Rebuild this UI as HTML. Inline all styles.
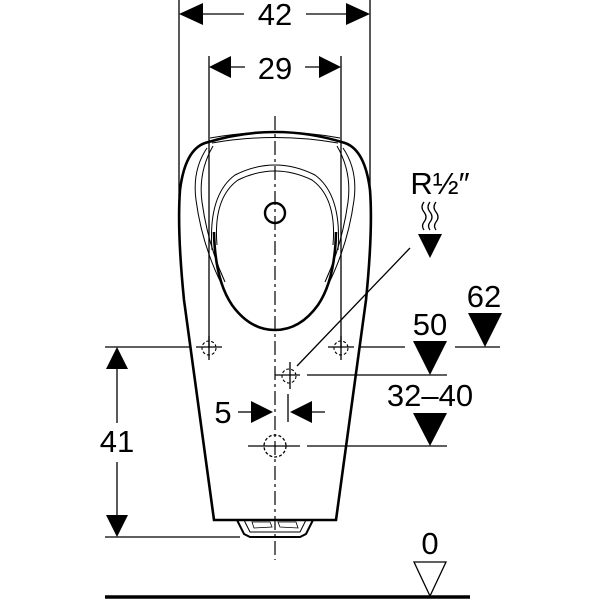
<!DOCTYPE html>
<html><head><meta charset="utf-8"><style>
html,body{margin:0;padding:0;background:#fff}
svg{display:block}
text{font-family:"Liberation Sans",sans-serif;font-size:31px;fill:#000;text-anchor:middle}
</style></head><body>
<svg width="600" height="600" viewBox="0 0 600 600" xmlns="http://www.w3.org/2000/svg">
<g stroke="#000" fill="none">
<line x1="179" y1="0" x2="179" y2="196" stroke-width="1.3"/>
<line x1="370" y1="0" x2="370" y2="196" stroke-width="1.3"/>
<line x1="209" y1="56" x2="209" y2="348" stroke-width="1.3"/>
<line x1="341" y1="56" x2="341" y2="348" stroke-width="1.3"/>
<line x1="200" y1="14" x2="244" y2="14" stroke-width="1.3"/>
<line x1="306" y1="14" x2="350" y2="14" stroke-width="1.3"/>
<line x1="228" y1="67" x2="245" y2="67" stroke-width="1.3"/>
<line x1="305" y1="67" x2="322" y2="67" stroke-width="1.3"/>
<path d="M214,520 L184,300 Q177,230 180,190 Q185,150 205,143 Q240,132 275,132 Q310,132 345,143 Q365,150 370,190 Q373,230 366,300 L336,520 Z" stroke-width="2.6"/>
<path d="M207,148 Q192,170 196,200 Q202,245 222,285" stroke-width="1"/>
<path d="M213,146 Q198,172 202,202 Q208,245 225,282" stroke-width="1"/>
<path d="M343,148 Q358,170 354,200 Q348,245 328,285" stroke-width="1"/>
<path d="M337,146 Q352,172 348,202 Q342,245 325,282" stroke-width="1"/>
<path d="M210,138 Q275,126 340,138" stroke-width="1"/>
<path d="M212,143 Q275,132 338,143" stroke-width="1"/>
<path d="M212,250 Q208,195 235,175 Q275,155 315,175 Q342,195 338,250" stroke-width="1"/>
<path d="M217,245 Q213,198 238,180 Q275,162 312,180 Q337,198 333,245" stroke-width="1"/>
<path d="M214,232 Q215,280 232,305 Q250,330 275,330 Q300,330 318,305 Q335,280 336,232" stroke-width="2.6"/>
<circle cx="275" cy="213" r="10" stroke-width="2.4"/>
<path d="M237,520 L244,534 L250,537 L300,537 L306,534 L313,520" stroke-width="2"/>
<path d="M244,520 L250,532 L300,532 L306,520" stroke-width="1"/>
<path d="M252,522 L270,522 L272,527 L254,528 Z M278,522 L296,522 L298,528 L280,527 Z" stroke-width="0.8"/>
<line x1="275" y1="116" x2="275" y2="560" stroke-width="1.2" stroke-dasharray="14,4,3,4"/>
<line x1="105" y1="347" x2="190" y2="347" stroke-width="1.3"/>
<line x1="196" y1="347" x2="222" y2="347" stroke-width="1.3"/>
<line x1="328" y1="347" x2="354" y2="347" stroke-width="1.3"/>
<line x1="360" y1="347" x2="405" y2="347" stroke-width="1.3"/>
<line x1="455" y1="347" x2="500" y2="347" stroke-width="1.3"/>
<line x1="275" y1="375" x2="300" y2="375" stroke-width="1.3"/>
<line x1="307" y1="375" x2="447" y2="375" stroke-width="1.3"/>
<line x1="248" y1="446" x2="300" y2="446" stroke-width="1.3"/>
<line x1="307" y1="446" x2="447" y2="446" stroke-width="1.3"/>
<line x1="105" y1="537" x2="240" y2="537" stroke-width="1.3"/>
<line x1="209" y1="336" x2="209" y2="360" stroke-width="1.3"/>
<line x1="341" y1="336" x2="341" y2="360" stroke-width="1.3"/>
<line x1="290" y1="362" x2="290" y2="389" stroke-width="1.3"/>
<circle cx="209" cy="348" r="7" stroke-width="1.1" stroke-dasharray="3,2"/>
<circle cx="341" cy="348" r="7" stroke-width="1.1" stroke-dasharray="3,2"/>
<circle cx="289" cy="376" r="7" stroke-width="1.1" stroke-dasharray="3,2"/>
<circle cx="275" cy="446" r="11" stroke-width="1.3" stroke-dasharray="3,2"/>
<line x1="297" y1="366" x2="410" y2="248" stroke-width="1.3"/>
<line x1="288" y1="394" x2="288" y2="422" stroke-width="1.3"/>
<line x1="238" y1="412" x2="252" y2="412" stroke-width="1.3"/>
<line x1="308" y1="412" x2="325" y2="412" stroke-width="1.3"/>
<line x1="117" y1="368" x2="117" y2="423" stroke-width="1.3"/>
<line x1="117" y1="462" x2="117" y2="515" stroke-width="1.3"/>
<line x1="105" y1="597" x2="470" y2="597" stroke-width="3.5"/>
<polygon points="414,562 446,562 430,596" stroke-width="1.3"/>
<path d="M424,202 q-4,5 0,10 q4,5 0,10 q-3,4 0,8 M430,202 q-4,5 0,10 q4,5 0,10 q-3,4 0,8 M436,202 q-4,5 0,10 q4,5 0,10 q-3,4 0,8" stroke-width="1.3"/>
</g>
<g fill="#000">
<polygon points="179,14 203,3 203,25"/>
<polygon points="370,14 346,3 346,25"/>
<polygon points="209,67 231,56 231,78"/>
<polygon points="341,67 319,56 319,78"/>
<polygon points="117,347 106,369 128,369"/>
<polygon points="117,537 106,515 128,515"/>
<polygon points="273,412 251,401 251,423"/>
<polygon points="290,412 312,401 312,423"/>
<polygon points="468,313 502,313 485,347"/>
<polygon points="413,341 447,341 430,375"/>
<polygon points="413,413 447,413 430,446"/>
<polygon points="418,234 442,234 430,258"/>
</g>
<text x="275" y="25">42</text>
<text x="275" y="79">29</text>
<text x="440" y="194">R½″</text>
<text x="484" y="307">62</text>
<text x="430" y="335">50</text>
<text x="430" y="406">32–40</text>
<text x="223" y="423">5</text>
<text x="117" y="452">41</text>
<text x="430" y="554">0</text>
</svg>
</body></html>
